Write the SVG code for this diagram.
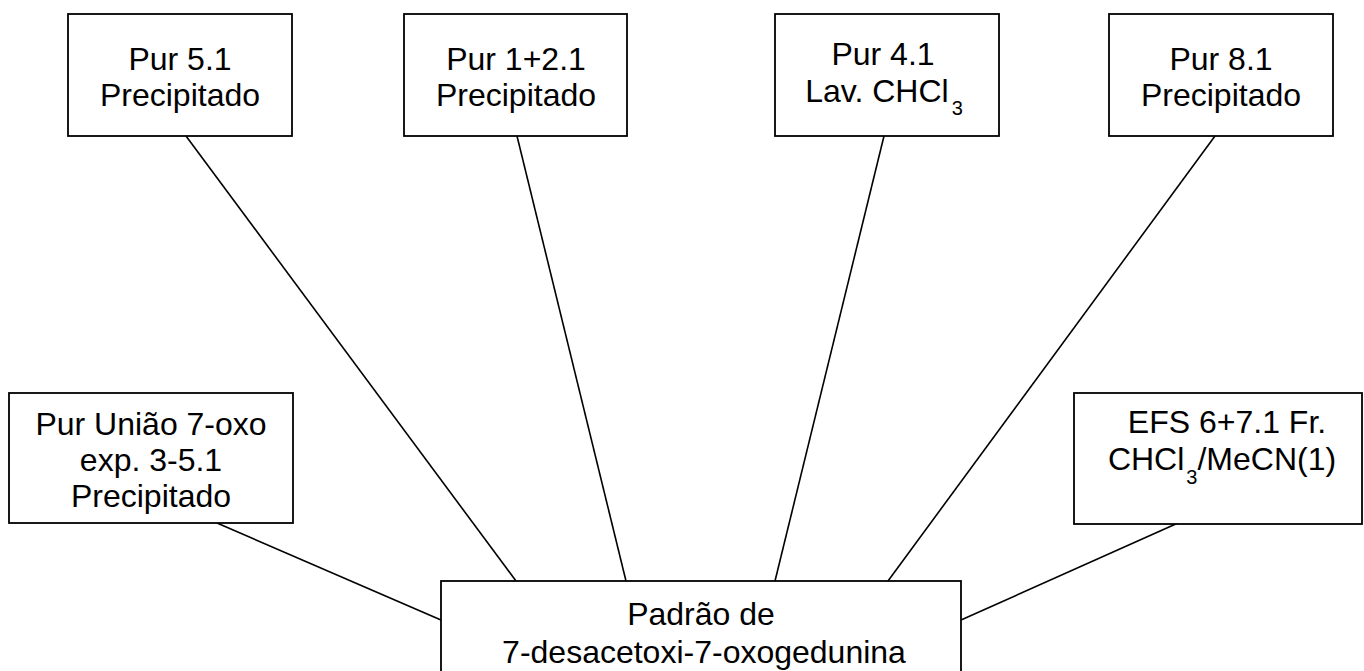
<svg xmlns="http://www.w3.org/2000/svg" width="1364" height="671" viewBox="0 0 1364 671">
<style>
.box{fill:#fff;stroke:#000;stroke-width:1.8}
.t{font-family:"Liberation Sans",Arial,sans-serif;font-size:32px;fill:#000;text-anchor:middle}
.sub{font-size:20px}
.conn line{stroke:#000;stroke-width:1.6}
</style>
<rect width="1364" height="671" fill="#fff"/>
<g id="connectors" class="conn">
<line x1="186" y1="136" x2="516" y2="581"/>
<line x1="517" y1="136" x2="626" y2="581"/>
<line x1="884" y1="136" x2="775" y2="581"/>
<line x1="1215" y1="136" x2="888" y2="581"/>
<line x1="217" y1="523" x2="441" y2="620"/>
<line x1="1178" y1="523" x2="961" y2="620"/>
</g>
<g id="node-pur51">
<rect class="box" x="68" y="14" width="224" height="122"/>
<text class="t" x="180" y="70">Pur 5.1</text>
<text class="t" x="180" y="106">Precipitado</text>
</g>
<g id="node-pur12">
<rect class="box" x="404" y="14" width="223" height="122"/>
<text class="t" x="516" y="70">Pur 1+2.1</text>
<text class="t" x="516" y="106">Precipitado</text>
</g>
<g id="node-pur41">
<rect class="box" x="775" y="14" width="224" height="122"/>
<text class="t" x="883" y="65">Pur 4.1</text>
<text class="t" x="884" y="102">Lav. CHCl<tspan class="sub" dx="3" dy="13">3</tspan></text>
</g>
<g id="node-pur81">
<rect class="box" x="1109" y="14" width="224" height="122"/>
<text class="t" x="1221" y="70">Pur 8.1</text>
<text class="t" x="1221" y="106">Precipitado</text>
</g>
<g id="node-uniao">
<rect class="box" x="9" y="393" width="284" height="130"/>
<text class="t" x="151" y="435">Pur União 7-oxo</text>
<text class="t" x="151" y="471">exp. 3-5.1</text>
<text class="t" x="151" y="507">Precipitado</text>
</g>
<g id="node-efs">
<rect class="box" x="1074" y="393" width="288" height="131"/>
<text class="t" x="1227" y="433">EFS 6+7.1 Fr.</text>
<text class="t" x="1222" y="470">CHCl<tspan class="sub" dx="2" dy="14">3</tspan><tspan dy="-14">/MeCN(1)</tspan></text>
</g>
<g id="node-padrao">
<rect class="box" x="441" y="581" width="520" height="110"/>
<text class="t" x="701" y="625">Padrão de</text>
<text class="t" x="704" y="663">7-desacetoxi-7-oxogedunina</text>
</g>
</svg>
